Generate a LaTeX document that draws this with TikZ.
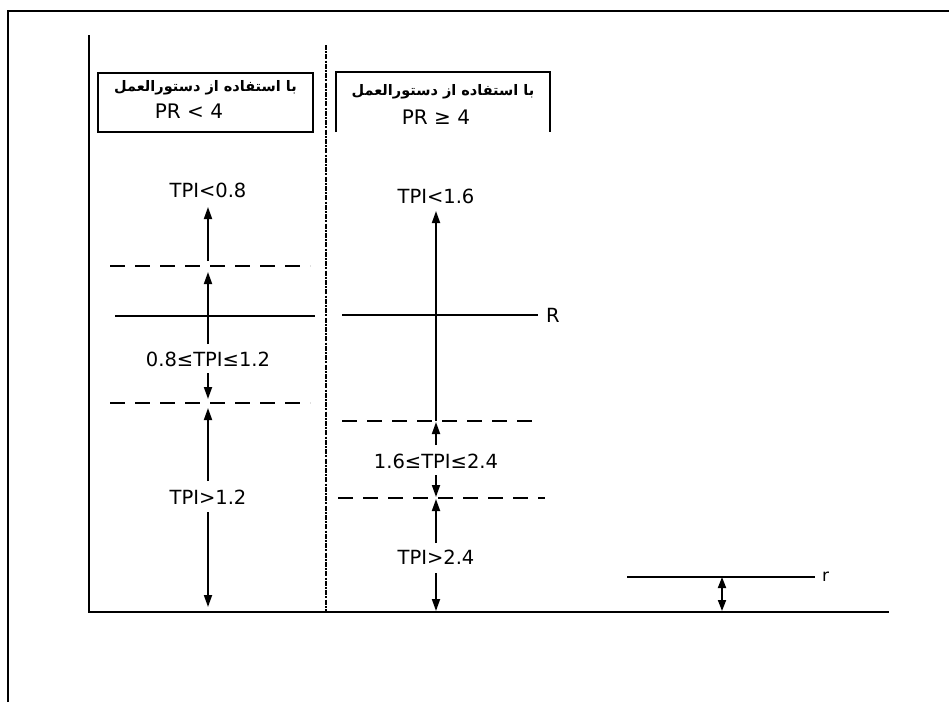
\documentclass[tikz,border=0pt]{standalone}
\usepackage{fontspec}
\setmainfont{DejaVu Sans}
\newfontfamily\arabicfont[Script=Arabic]{DejaVu Sans}
\TeXXeTstate=1
\usetikzlibrary{arrows.meta}
\begin{document}
\begin{tikzpicture}[x=1pt,y=-1pt,
  thin line/.style={line width=2pt},
  axisline/.style={line width=2.4pt},
  dashline/.style={line width=2pt,dash pattern=on 15pt off 10pt},
  arr/.style={line width=1.8pt,-{Triangle[length=12pt,width=8pt]}},
  dblarr/.style={line width=1.8pt,{Triangle[length=11pt,width=8pt]}-{Triangle[length=11pt,width=8pt]}},
  lbl/.style={font=\fontsize{19.5}{22}\selectfont,inner sep=0pt},
  ar/.style={font=\arabicfont\bfseries\fontsize{14.5}{16}\selectfont,inner sep=0pt},
  pr/.style={font=\fontsize{20}{22}\selectfont,inner sep=0pt}]
\useasboundingbox (0,0) rectangle (949,702);
% frame
\draw[axisline] (8,702) -- (8,11) -- (949,11);
% axes
\coordinate (O) at (89,612);
\coordinate (ytop) at (89,35);
\coordinate (xend) at (889,612);
\draw[axisline] (ytop) -- (O) -- (xend);
% dash-dot divider
\coordinate (dtop) at (326,45);
\coordinate (dbot) at (326,612);
\draw[line width=2.6pt,dash pattern=on 5pt off 1.2pt on 2pt off 1.2pt] (dtop) -- (dbot);
% left box
\draw[line width=1.6pt] (98,73) rectangle (313,132);
\node[ar] (arL) at (205.5,88) {\beginR با استفاده از دستورالعمل\endR};
\node[pr] (prL) at (189,111) {PR < 4};
% right box (open bottom)
\draw[line width=1.6pt] (336,132) -- (336,72) -- (550,72) -- (550,132);
\node[ar] (arR) at (443,92) {\beginR با استفاده از دستورالعمل\endR};
\node[pr] (prR) at (436,117) {PR ≥ 4};
% left column
\draw[dashline] (110,266) -- (310,266);
\draw[thin line] (115,316) -- (315,316);
\draw[dashline] (110,403) -- (310,403);
\node[lbl] (l1) at (208,190) {TPI<0.8};
\node[lbl] (l2) at (208,359) {0.8≤TPI≤1.2};
\node[lbl] (l3) at (208,497) {TPI>1.2};
\coordinate (a1s) at (208,261);
\coordinate (a1e) at (208,207);
\coordinate (a2s) at (208,344);
\coordinate (a2e) at (208,272);
\coordinate (a3s) at (208,373);
\coordinate (a3e) at (208,399);
\coordinate (a4s) at (208,481);
\coordinate (a4e) at (208,408);
\coordinate (a5s) at (208,512);
\coordinate (a5e) at (208,607);
\draw[arr] (a1s) -- (a1e);
\draw[arr] (a2s) -- (a2e);
\draw[arr] (a3s) -- (a3e);
\draw[arr] (a4s) -- (a4e);
\draw[arr] (a5s) -- (a5e);
% right column
\draw[thin line] (342,315) -- (538,315);
\node[lbl,anchor=west] (R) at (546,315) {R};
\draw[dashline] (342,421) -- (540,421);
\draw[dashline] (338,498) -- (545,498);
\node[lbl] (r1) at (436,196) {TPI<1.6};
\node[lbl] (r2) at (436,461) {1.6≤TPI≤2.4};
\node[lbl] (r3) at (436,557) {TPI>2.4};
\coordinate (b1s) at (436,421);
\coordinate (b1e) at (436,211);
\coordinate (b2s) at (436,445);
\coordinate (b2e) at (436,422);
\coordinate (b3s) at (436,475);
\coordinate (b3e) at (436,497);
\coordinate (b4s) at (436,543);
\coordinate (b4e) at (436,499);
\coordinate (b5s) at (436,573);
\coordinate (b5e) at (436,611);
\draw[arr] (b1s) -- (b1e);
\draw[arr] (b2s) -- (b2e);
\draw[arr] (b3s) -- (b3e);
\draw[arr] (b4s) -- (b4e);
\draw[arr] (b5s) -- (b5e);
% r
\draw[thin line] (627,577) -- (815,577);
\node[lbl,anchor=west,font=\fontsize{17}{18}\selectfont] (rl) at (822,577) {r};
\coordinate (c1) at (722,577);
\coordinate (c2) at (722,611);
\draw[dblarr] (c1) -- (c2);
\end{tikzpicture}
\end{document}
